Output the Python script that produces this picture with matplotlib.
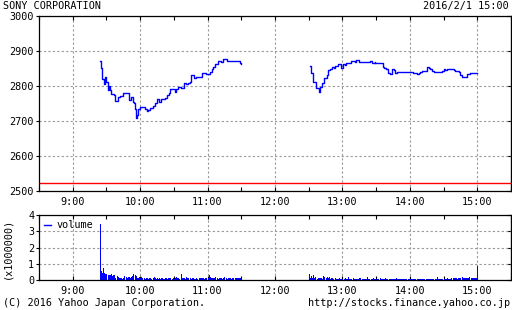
import matplotlib
matplotlib.use("Agg")
import matplotlib.pyplot as plt
import numpy as np

# ---- data (minutes after 9:00) ----
title = "SONY CORPORATION"
stamp = "2016/2/1 15:00"
prev_close = 2522

am_t = [24.7, 25.6, 26.5, 27.4, 28.3, 29.1, 30.0, 31.8, 32.4, 33.0, 34.5, 36.6, 37.4, 39.5, 40.4,
        41.9, 44.9, 50.2, 51.7, 53.2, 54.4, 55.6, 56.2, 57.3, 58.5, 60.3, 64.2, 65.7, 67.0, 68.6,
        71.6, 73.1, 75.2, 77.0, 79.0, 82.0, 83.5, 86.0, 87.0, 90.9, 92.0, 93.9, 96.0, 98.9, 101.0,
        102.8, 104.3, 104.9, 107.9, 109.7, 114.7, 119.0, 122.1, 123.6, 125.1, 126.6, 129.6, 132.0,
        134.0, 137.0, 140.0, 144.4, 147.4, 148.9, 149.8]
am_p = [2871, 2850, 2819, 2805, 2819, 2825, 2812, 2789, 2800, 2789, 2776, 2774, 2758, 2758, 2769,
        2772, 2779, 2760, 2769, 2755, 2752, 2733, 2708, 2717, 2733, 2741, 2733, 2729, 2731, 2736,
        2743, 2750, 2762, 2755, 2762, 2765, 2774, 2779, 2790, 2784, 2790, 2798, 2795, 2808, 2805,
        2809, 2812, 2830, 2822, 2827, 2836, 2834, 2841, 2848, 2855, 2863, 2870, 2868,
        2877, 2870, 2872, 2872, 2870, 2865, 2862]

pm_t = [210.7, 211.9, 213.4, 216.3, 219.3, 220.2, 221.7, 223.2, 226.1, 227.0, 229.1, 230.6, 232.1,
        233.0, 235.7, 238.0, 238.9, 240.4, 242.5, 243.4, 245.4, 247.8, 251.4, 252.3, 254.4, 258.2,
        261.8, 264.8, 266.2, 268.6, 269.2, 270.7, 274.6, 275.8, 277.2, 279.0, 280.2, 282.6, 284.1,
        285.6, 287.1, 288.5, 294.5, 297.4, 301.3, 302.8, 304.9, 306.3, 307.8, 309.3, 310.8, 315.2,
        316.7, 318.2, 319.7, 321.2, 324.1, 328.6, 330.1, 331.6, 333.1, 337.5, 339.0, 340.5, 343.5,
        345.0, 346.5, 349.4, 350.9, 353.9, 359.9]
pm_p = [2857, 2836, 2812, 2793, 2782, 2798, 2809, 2822, 2831, 2846, 2848, 2855, 2850,
        2858, 2863, 2863, 2850, 2863, 2860, 2865, 2865, 2872, 2869, 2874, 2869, 2868,
        2869, 2871, 2867, 2869, 2865, 2867, 2867, 2855, 2850, 2848, 2836, 2833, 2848,
        2846, 2836, 2841, 2839, 2841, 2841, 2836, 2838, 2834, 2836, 2841, 2843, 2855,
        2852, 2848, 2843, 2839, 2839, 2842, 2848, 2846, 2848, 2848, 2846, 2843, 2841,
        2831, 2827, 2827, 2833, 2836, 2836]

# volume (x1,000,000), one bar per minute
am_vol_start = 24
am_vol = [3.45, 0.55, 0.42, 0.72, 0.45, 0.40, 0.38, 0.28, 0.32, 0.30,
          0.38, 0.27, 0.33, 0.30, 0.12, 0.22, 0.18, 0.15, 0.10, 0.12,
          0.08, 0.10, 0.25, 0.20, 0.15, 0.18, 0.16, 0.15, 0.18, 0.22,
          0.38, 0.30, 0.22, 0.15, 0.12, 0.18, 0.14, 0.20, 0.10, 0.12,
          0.08, 0.10, 0.12, 0.08, 0.15, 0.10, 0.08, 0.12, 0.18, 0.10,
          0.08, 0.10, 0.06, 0.10, 0.08, 0.12, 0.06, 0.08, 0.10, 0.12,
          0.08, 0.12, 0.10, 0.15, 0.08, 0.10, 0.06, 0.12, 0.18, 0.10,
          0.12, 0.08, 0.38, 0.15, 0.10, 0.12, 0.08, 0.18, 0.10, 0.12,
          0.10, 0.08, 0.12, 0.10, 0.06, 0.08, 0.12, 0.06, 0.10, 0.12,
          0.15, 0.10, 0.12, 0.08, 0.14, 0.10, 0.12, 0.30, 0.18, 0.12,
          0.15, 0.10, 0.12, 0.18, 0.10, 0.08, 0.12, 0.10, 0.14, 0.08,
          0.12, 0.18, 0.10, 0.08, 0.12, 0.10, 0.14, 0.08, 0.12, 0.10,
          0.10, 0.12, 0.10, 0.10, 0.12, 0.10]
pm_vol_start = 210
pm_vol = [0.38, 0.15, 0.22, 0.10, 0.28, 0.15, 0.20, 0.08, 0.10, 0.12,
          0.10, 0.12, 0.08, 0.25, 0.18, 0.15, 0.20, 0.10, 0.18, 0.08,
          0.12, 0.10, 0.08, 0.10, 0.08, 0.06, 0.08, 0.10, 0.06, 0.08,
          0.06, 0.08, 0.10, 0.08, 0.06, 0.20, 0.08, 0.06, 0.08, 0.10,
          0.06, 0.08, 0.06, 0.08, 0.06, 0.10, 0.15, 0.06, 0.08, 0.06,
          0.08, 0.06, 0.18, 0.08, 0.06, 0.08, 0.06, 0.10, 0.06, 0.08,
          0.06, 0.08, 0.06, 0.10, 0.06, 0.08, 0.06, 0.08, 0.10, 0.06,
          0.08, 0.06, 0.08, 0.06, 0.08, 0.06, 0.08, 0.06, 0.10, 0.08,
          0.06, 0.08, 0.06, 0.08, 0.06, 0.08, 0.06, 0.06, 0.08, 0.06,
          0.08, 0.06, 0.08, 0.06, 0.08, 0.06, 0.08, 0.06, 0.06, 0.08,
          0.06, 0.08, 0.06, 0.08, 0.06, 0.08, 0.06, 0.08, 0.06, 0.08,
          0.06, 0.08, 0.06, 0.08, 0.18, 0.06, 0.08, 0.06, 0.08, 0.06,
          0.08, 0.06, 0.08, 0.10, 0.08, 0.06, 0.08, 0.10, 0.12, 0.10,
          0.12, 0.10, 0.08, 0.10, 0.12, 0.15, 0.18, 0.12, 0.10, 0.15,
          0.12, 0.15, 0.10, 0.18, 0.12, 0.15, 0.12, 0.10, 0.15, 0.12,
          0.86]

xtick_pos = [0, 60, 120, 180, 240, 300, 360]
xtick_labels = ["9:00", "10:00", "11:00", "12:00", "13:00", "14:00", "15:00"]
price_ticks = [2500, 2600, 2700, 2800, 2900, 3000]
vol_ticks = [0, 1, 2, 3, 4]

# ---- style ----
FONT = "DejaVu Sans Mono"
FS = 7.3
plt.rcParams['font.family'] = FONT
plt.rcParams['font.size'] = FS
BLUE = "#0000ff"
GRID = dict(color="#999999", linestyle=(0, (2, 2)), linewidth=0.8)

W, H = 512, 310
fig = plt.figure(figsize=(W / 100, H / 100), dpi=100)

def frac(x0, y0, x1, y1):
    return [x0 / W, 1 - y1 / H, (x1 - x0) / W, (y1 - y0) / H]

ax = fig.add_axes(frac(39, 16, 511, 191))
axv = fig.add_axes(frac(39, 215, 511, 280))

for a in (ax, axv):
    a.set_xlim(-30, 390)
    a.set_xticks(xtick_pos)
    a.set_xticklabels(xtick_labels)
    a.set_xticks([-30 + 60 * i for i in range(8)], minor=True)
    a.grid(True, which='major', **GRID)
    a.tick_params(axis='x', which='both', direction='in', top=True, bottom=True,
                  length=3, width=0.8, pad=4, labelsize=FS)
    a.tick_params(axis='y', which='both', direction='out', length=2, width=0.8, pad=1.5, labelsize=FS)
    for s in a.spines.values():
        s.set_linewidth(0.9)
    a.set_axisbelow(True)

# price panel
ax.set_ylim(2500, 3000)
ax.set_yticks(price_ticks)
ax.step(am_t, am_p, where='post', color=BLUE, linewidth=1.0)
ax.step(pm_t, pm_p, where='post', color=BLUE, linewidth=1.0)
ax.axhline(prev_close, color="#ff0000", linewidth=1.0)
sec = ax.secondary_yaxis('right')
sec.set_yticks(price_ticks)
sec.tick_params(direction='in', length=3, width=0.8, labelright=False)

# volume panel
axv.set_ylim(0, 4)
axv.set_yticks(vol_ticks)
am_x = np.arange(len(am_vol)) + am_vol_start
pm_x = np.arange(len(pm_vol)) + pm_vol_start
axv.bar(am_x, am_vol, width=0.9, color=BLUE, align='edge', linewidth=0, label='volume')
axv.bar(pm_x, pm_vol, width=0.9, color=BLUE, align='edge', linewidth=0)
secv = axv.secondary_yaxis('right')
secv.set_yticks(vol_ticks)
secv.tick_params(direction='in', length=3, width=0.8, labelright=False)

from matplotlib.lines import Line2D
axv.legend([Line2D([0], [0], color=BLUE, linewidth=1.0)], ['volume'],
           loc='upper left', frameon=False, handlelength=0.7, handletextpad=0.5,
           borderaxespad=0.2, borderpad=0.3, fontsize=FS)

fig.text(7 / W, 1 - 248 / H, "(x1000000)", rotation=90, ha='center', va='center', fontsize=FS)
fig.text(3 / W, 1 - 1 / H, title, ha='left', va='top', fontsize=FS)
fig.text(509 / W, 1 - 1 / H, stamp, ha='right', va='top', fontsize=FS)
fig.text(3 / W, 1 - 308 / H, "(C) 2016 Yahoo Japan Corporation.", ha='left', va='bottom', fontsize=FS)
fig.text(510 / W, 1 - 308 / H, "http://stocks.finance.yahoo.co.jp", ha='right', va='bottom', fontsize=FS)

fig.savefig("out.png", dpi=100)
